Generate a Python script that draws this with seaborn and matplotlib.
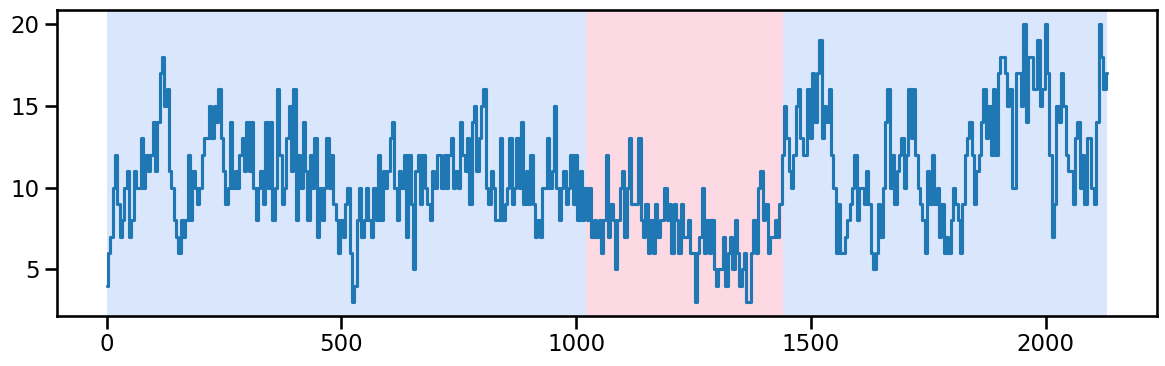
import numpy as np
import pandas as pd
import matplotlib
matplotlib.use("Agg")
import matplotlib.pyplot as plt
import seaborn as sns

step = 5
values = [
    4, 6, 7, 10, 12, 9, 7, 8, 10, 11, 7, 8, 11, 10, 10, 13, 10, 12, 11, 12,
    14, 11, 14, 17, 18, 15, 16, 11, 10, 8, 7, 6, 8, 7, 8, 12, 8, 11, 10, 9,
    10, 12, 13, 13, 15, 13, 15, 14, 16, 13, 11, 9, 10, 14, 10, 11, 10, 12, 13, 11,
    14, 11, 14, 10, 8, 10, 11, 9, 14, 10,
    14, 8, 10, 16, 12, 9, 10, 13, 15, 11, 16, 8, 12, 10, 14, 11, 8, 12, 10, 13,
    7, 10, 8, 10, 13, 10, 12, 9, 8, 6, 8, 7, 9, 10, 6, 3, 4, 8, 10, 7,
    8, 10, 8, 7, 10, 8, 12, 8, 11, 10, 11, 13, 14, 10, 8, 11, 10, 12, 7, 12,
    9, 5, 11, 12, 9, 12, 10, 9, 8, 11, 10, 12,
    12, 10, 12, 10, 12, 13, 10, 11, 10, 14, 12, 11, 13, 9, 14, 15, 11, 13, 15, 16,
    10, 9, 11, 10, 8, 8, 13, 8, 9, 10, 13, 9, 10, 13, 10, 14, 9, 11, 9, 12,
    9, 7, 8, 7, 10, 10, 13, 10, 11, 15, 10, 8, 10, 11, 9, 10, 12, 9, 12, 8,
    11, 8, 10, 8, 10, 7, 8, 7, 8, 6, 8, 12, 7,
    9, 8, 5, 8, 10, 11, 7, 10, 13, 9, 9, 9, 13, 8, 7, 9, 6, 8, 6, 9,
    7, 8, 8, 10, 8, 9, 6, 9, 8, 6, 9, 7, 7, 8, 6, 6, 3, 6, 7, 10,
    6, 8, 6, 8, 5, 4, 5, 5, 7, 4, 6, 7, 5, 8, 6, 4, 5, 6, 3, 3,
    6, 8, 6, 10, 11, 8, 9, 6, 7, 7, 8, 7, 9,
    12, 15, 13, 11, 10, 12, 15, 16, 13, 12, 12, 16, 13, 17, 14, 17, 19, 13, 15, 14,
    16, 12, 10, 6, 9, 6, 6, 7, 8, 9, 10, 12, 8, 10, 10, 9, 11, 9, 6, 5,
    6, 9, 7, 10, 14, 16, 10, 12, 9, 11, 12, 13, 10, 12, 16, 13, 16, 12, 10, 9,
    8, 6, 11, 9, 12, 9, 10, 7, 9, 6, 7, 6,
    8, 10, 9, 8, 6, 9, 12, 13, 14, 12, 9, 11, 12, 14, 16, 13, 15, 12, 16, 12,
    17, 18, 18, 17, 15, 16, 10, 10, 17, 17, 15, 20, 14, 18, 18, 16, 16, 19, 15, 16,
    20, 17, 12, 7, 9, 15, 14, 17, 15, 12, 11, 11, 9, 13, 14, 10, 12, 9, 13, 13,
    10, 9, 14, 20, 18, 16, 17,
]

# Regime shading: (start, end, colour)
regime_starts = [0, 1020, 1440]
regime_ends = [1020, 1440, 2130]
regime_colors = ["#dae6fc", "#fdd9e4", "#dae6fc"]

sns.set_theme(style="ticks", context="talk",
              rc={"axes.edgecolor": "black", "xtick.color": "black",
                  "ytick.color": "black", "text.color": "black",
                  "axes.labelcolor": "black"})

df = pd.DataFrame({"t": np.arange(len(values)) * step, "value": values})

fig, ax = plt.subplots(figsize=(11.65, 3.66), dpi=100)
fig.subplots_adjust(left=0.0487, right=0.9929, top=0.9727, bottom=0.1366)

for s, e, c in zip(regime_starts, regime_ends, regime_colors):
    ax.axvspan(s, e, color=c, lw=0, zorder=0)

sns.lineplot(data=df, x="t", y="value", ax=ax, color="#1f77b4", zorder=2,
             drawstyle="steps-mid")
ax.set_xlabel("")
ax.set_ylabel("")
ax.set_yticks([5, 10, 15, 20])
ax.set_xticks([0, 500, 1000, 1500, 2000])

fig.savefig("out.png", dpi=100)
